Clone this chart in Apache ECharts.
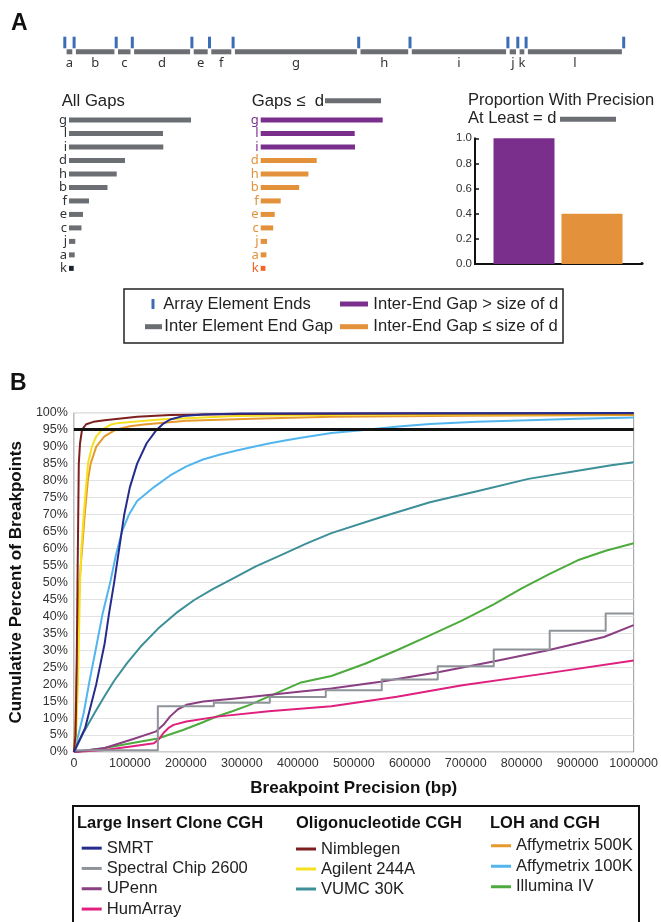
<!DOCTYPE html>
<html>
<head>
<meta charset="utf-8">
<script src="https://cdn.jsdelivr.net/npm/echarts@6/dist/echarts.min.js"></script>
<style>html,body{margin:0;padding:0;background:#fff}#c{width:661px;height:922px}</style>
</head>
<body>
<div id="c"></div>
<script>
// ---------------- Panel A data ----------------
const gapNames = ['a','b','c','d','e','f','g','h','i','j','k','l'];
const gapLengths = [5.7, 38.5, 12.5, 56, 14, 20, 122, 47.7, 94.3, 6.3, 4.7, 94];
const barOrder = ['g','l','i','d','h','b','f','e','c','j','a','k'];
const thresholdGap = 'd';
const proportionCats = ['Inter-End Gap > size of d', 'Inter-End Gap ≤ size of d'];
const proportionValues = [1.0, 0.4];

// ---------------- Panel B data (x = bp, y = cumulative %) ----------------
const xTicks = [0,100000,200000,300000,400000,500000,600000,700000,800000,900000,1000000];
const smrt = [[0,0],[20000,7],[40000,20],[55000,32],[63000,41],[72000,50],[90000,70],[100000,78],[113000,85],[130000,91],[148000,95],[160000,96.8],[172000,98],[195000,99],[230000,99.5],[300000,99.8],[1000000,99.9]];
const spectral = [[0,0.5],[150000,13.5],[250000,14.5],[350000,16.2],[450000,18.2],[550000,21.4],[650000,25.3],[750000,30.2],[850000,35.7],[950000,40.8],[1000000,40.8]];
const upenn = [[0,0],[55000,1.2],[102000,3.6],[146000,6],[160000,8],[172000,10.5],[186000,12.6],[201000,13.9],[231000,14.9],[289000,15.8],[348000,16.8],[406000,17.8],[460000,18.7],[548000,20.7],[653000,23.6],[747000,26.6],[847000,30],[947000,33.9],[1000000,37.4]];
const humarray = [[0,0],[55000,0.6],[102000,1.6],[143000,2.6],[152000,3.8],[160000,5.6],[170000,7.2],[178000,8],[201000,9],[260000,10.5],[348000,12],[460000,13.5],[577000,16.3],[694000,19.7],[841000,23.1],[1000000,27]];
const nimblegen = [[0,0],[3000,5],[5000,25],[6500,50],[8800,85],[11000,91],[14600,95],[22000,96.6],[35000,97.3],[55000,97.8],[113000,98.8],[172000,99.3],[300000,99.6],[600000,99.8],[1000000,99.8]];
const agilent = [[0,0],[4000,5],[7400,21],[11100,50],[13500,60],[17600,70],[25200,85],[32300,90],[40000,93],[50500,95],[66000,96.5],[81000,97],[154000,98],[289000,99],[500000,99.4],[1000000,99.6]];
const vumc = [[0,0],[18000,6],[37000,11.5],[55000,16.5],[72000,21],[95000,26.2],[119000,31],[150000,36.3],[183000,41],[215000,44.8],[248000,48],[283000,51],[325000,54.7],[370000,58],[415000,61.4],[460000,64.5],[548000,69.2],[636000,73.6],[724000,77],[812000,80.5],[900000,82.9],[960000,84.5],[1000000,85.4]];
const affy500 = [[0,0],[3000,10],[6000,30],[10000,50],[19400,70],[25000,80],[30000,85],[40000,90],[54600,93],[75000,95],[100000,96],[125000,96.5],[201000,97.6],[319000,98.2],[460000,98.8],[700000,99.1],[1000000,99.3]];
const affy100 = [[0,0],[8000,5],[17600,11.5],[28000,21],[40000,31],[51600,41],[65000,50],[75000,58],[86000,65],[98600,70],[113000,74],[142600,78],[172000,81.5],[201000,84.2],[230600,86.2],[260000,87.6],[289000,88.8],[319000,89.9],[348000,90.9],[377000,91.8],[406000,92.6],[460000,94],[518000,94.9],[580000,95.9],[636000,96.7],[720000,97.3],[812000,97.8],[900000,98.2],[1000000,98.6]];
const illumina = [[0,0],[50000,1],[100000,2.5],[150000,4],[195000,6.5],[225000,8.4],[254000,10.4],[283000,12],[313000,13.8],[360000,17.2],[406000,20.5],[460000,22.4],[520000,26],[577000,30],[635000,34.3],[694000,38.8],[750000,43.5],[800000,48.2],[850000,52.5],[900000,56.5],[950000,59.3],[1000000,61.5]];
const thresholdPct = 95;

// ---------------- styling ----------------
const FF = '"Liberation Sans", Arial, sans-serif';
const LF = '"Noto Sans", "Open Sans", sans-serif';
const GRAY = '#6b6e72', BLUE = '#3b6db5', PURPLE = '#7b2f8c', ORANGE = '#e3913a';

// derived track layout from the gap lengths
const GAP = 3.6;
const trackSegs = [], trackTicks = [];
let acc = 0;
gapLengths.forEach((len, i) => {
  trackTicks.push([acc + i * GAP + GAP / 2]);
  trackSegs.push([acc + (i + 1) * GAP, acc + (i + 1) * GAP + len]);
  acc += len;
});
trackTicks.push([acc + gapLengths.length * GAP + GAP / 2]);
const trackTotal = acc + (gapLengths.length + 1) * GAP;
const lenOf = n => gapLengths[gapNames.indexOf(n)];
const dLen = lenOf(thresholdGap);

const lineSeries = [
  ['Illumina IV', illumina, '#4cab3c'],
  ['HumArray', humarray, '#e0207f'],
  ['UPenn', upenn, '#8a3f82'],
  ['Spectral Chip 2600', spectral, '#8e9499'],
  ['VUMC 30K', vumc, '#3d8f98'],
  ['Affymetrix 100K', affy100, '#52b5ee'],
  ['Affymetrix 500K', affy500, '#e69a2e'],
  ['Agilent 244A', agilent, '#f5e020'],
  ['Nimblegen', nimblegen, '#7e1f1f'],
  ['SMRT', smrt, '#262c8c']
].map(([name, data, color]) => {
  const s = {
    name, type: 'line', xAxisIndex: 4, yAxisIndex: 4, data,
    showSymbol: false, symbol: 'none', color,
    itemStyle: {color}, lineStyle: {color, width: 2, join: 'round'},
    smooth: false, z: 3
  };
  if (name === 'Spectral Chip 2600') s.step = 'end';
  if (name === 'SMRT') s.markLine = {
    silent: true, symbol: 'none', label: {show: false}, animation: false,
    lineStyle: {color: '#111', width: 3, type: 'solid'}, data: [{yAxis: thresholdPct}]
  };
  return s;
});

const legendCommon = {
  orient: 'vertical', icon: 'rect', itemWidth: 20, itemHeight: 3, itemGap: 0,
  padding: 0, selectedMode: false,
  textStyle: {fontSize: 16.6, color: '#222', fontFamily: FF, lineHeight: 20.3}
};

const option = {
  animation: false,
  backgroundColor: '#fff',
  grid: [
    {left: 63, top: 30, width: trackTotal, height: 40},
    {left: 69, top: 113.3, width: 130, height: 161.8},
    {left: 260.7, top: 113.3, width: 130, height: 161.8},
    {left: 490, top: 138.3, width: 136, height: 125.7},
    {left: 69, top: 412.7, width: 568, height: 339.3, show: true, borderColor: '#9a9a9a', borderWidth: 1}
  ],
  xAxis: [
    {gridIndex: 0, type: 'value', min: 0, max: trackTotal, show: false},
    {gridIndex: 1, type: 'value', min: 0, max: 130, show: false},
    {gridIndex: 2, type: 'value', min: 0, max: 130, show: false},
    {gridIndex: 3, type: 'category', data: proportionCats, show: false},
    {gridIndex: 4, type: 'value', min: xTicks[0], max: xTicks[xTicks.length - 1], interval: xTicks[1] - xTicks[0],
      axisLine: {show: false}, axisTick: {show: false}, splitLine: {show: false},
      axisLabel: {formatter: v => String(v), fontSize: 12.5, color: '#333', margin: 5, fontFamily: FF},
      name: 'Breakpoint Precision (bp)', nameLocation: 'middle', nameGap: 27.5,
      nameTextStyle: {fontWeight: 'bold', fontSize: 17, color: '#111', fontFamily: FF}}
  ],
  yAxis: [
    {gridIndex: 0, type: 'value', min: 0, max: 1, show: false},
    {gridIndex: 1, type: 'category', data: barOrder, inverse: true,
      axisLine: {show: false}, axisTick: {show: false},
      axisLabel: {interval: 0, margin: 2, fontSize: 13, color: '#333', fontFamily: LF}},
    {gridIndex: 2, type: 'category', data: barOrder, inverse: true,
      axisLine: {show: false}, axisTick: {show: false},
      axisLabel: {interval: 0, margin: 2, fontSize: 13, fontFamily: LF,
        color: (v) => v === 'k' ? '#f26522' : (lenOf(v) > dLen ? PURPLE : ORANGE)}},
    {gridIndex: 3, type: 'value', min: 0, max: 1, interval: 0.2, offset: 15,
      axisLine: {show: true, lineStyle: {color: '#111', width: 2}},
      axisTick: {show: true, inside: true, length: 4, lineStyle: {color: '#111', width: 1.5}},
      splitLine: {show: false},
      axisLabel: {formatter: v => v.toFixed(1), fontSize: 11.5, color: '#333', margin: 3, fontFamily: FF}},
    {gridIndex: 4, type: 'value', min: 0, max: 100, interval: 5,
      axisLine: {show: false}, axisTick: {show: false},
      splitLine: {lineStyle: {color: '#e2e2e2', width: 1}},
      axisLabel: {formatter: '{value}%', fontSize: 12.5, color: '#333', margin: 6, fontFamily: FF},
      name: 'Cumulative Percent of Breakpoints', nameLocation: 'middle', nameGap: 44,
      nameTextStyle: {fontWeight: 'bold', fontSize: 17, color: '#111', fontFamily: FF}}
  ],
  legend: [
    Object.assign({}, legendCommon, {data: ['SMRT','Spectral Chip 2600','UPenn','HumArray'], left: 81.7, top: 838}),
    Object.assign({}, legendCommon, {data: ['Nimblegen','Agilent 244A','VUMC 30K'], left: 296, top: 839,
      textStyle: Object.assign({}, legendCommon.textStyle, {lineHeight: 20})}),
    Object.assign({}, legendCommon, {data: ['Affymetrix 500K','Affymetrix 100K','Illumina IV'], left: 491, top: 835.5,
      textStyle: Object.assign({}, legendCommon.textStyle, {lineHeight: 20.5})})
  ],
  series: [
    {type: 'custom', xAxisIndex: 0, yAxisIndex: 0, data: trackSegs, silent: true,
      renderItem: (params, api) => {
        const x0 = api.coord([api.value(0), 0])[0];
        const x1 = api.coord([api.value(1), 0])[0];
        const top = params.coordSys.y;
        return {type: 'group', children: [
          {type: 'rect', shape: {x: x0, y: top + 19.3, width: x1 - x0, height: 5}, style: {fill: GRAY}},
          {type: 'text', style: {text: gapNames[params.dataIndex], x: (x0 + x1) / 2, y: top + 33.5,
            align: 'center', verticalAlign: 'middle', fill: '#333', fontSize: 13, fontFamily: LF}}
        ]};
      }},
    {type: 'custom', xAxisIndex: 0, yAxisIndex: 0, data: trackTicks, silent: true,
      renderItem: (params, api) => {
        const x = api.coord([api.value(0), 0])[0];
        const top = params.coordSys.y;
        return {type: 'rect', shape: {x: x - 1.5, y: top + 6.7, width: 3, height: 11.6}, style: {fill: BLUE}};
      }},
    {type: 'bar', xAxisIndex: 1, yAxisIndex: 1, barWidth: 5, silent: true,
      data: barOrder.map(n => ({value: lenOf(n), itemStyle: {color: n === 'k' ? '#1d2030' : GRAY}}))},
    {type: 'bar', xAxisIndex: 2, yAxisIndex: 2, barWidth: 5, silent: true,
      data: barOrder.map(n => ({value: lenOf(n), itemStyle: {color: n === 'k' ? '#f26522' : (lenOf(n) > dLen ? PURPLE : ORANGE)}}))},
    {type: 'bar', xAxisIndex: 3, yAxisIndex: 3, barWidth: 61, silent: true,
      data: proportionValues.map((v, i) => ({value: v, itemStyle: {color: i === 0 ? PURPLE : ORANGE}}))}
  ].concat(lineSeries),
  graphic: [
    {type: 'text', left: 11, top: 12, style: {text: 'A', font: 'bold 23px ' + FF, fill: '#111'}},
    {type: 'text', left: 10, top: 372, style: {text: 'B', font: 'bold 23px ' + FF, fill: '#111'}},
    // panel A titles
    {type: 'text', x: 61.7, y: 101, style: {text: 'All Gaps', font: '16.7px ' + FF, fill: '#222', verticalAlign: 'middle'}},
    {type: 'text', x: 251.7, y: 101, style: {text: 'Gaps ≤  d', font: '16.7px ' + FF, fill: '#222', verticalAlign: 'middle'}},
    {type: 'rect', shape: {x: 325, y: 98.2, width: dLen, height: 5}, style: {fill: GRAY}},
    {type: 'text', x: 468, y: 100, style: {text: 'Proportion With Precision', font: '16.5px ' + FF, fill: '#222', verticalAlign: 'middle'}},
    {type: 'text', x: 468, y: 118.3, style: {text: 'At Least = d', font: '16.5px ' + FF, fill: '#222', verticalAlign: 'middle'}},
    {type: 'rect', shape: {x: 560, y: 116.8, width: dLen, height: 5}, style: {fill: GRAY}},
    {type: 'line', shape: {x1: 474, y1: 264, x2: 642, y2: 264}, style: {stroke: '#111', lineWidth: 2}},
    {type: 'circle', shape: {cx: 642, cy: 263.5, r: 1.6}, style: {fill: '#111'}},
    // panel A legend
    {type: 'rect', shape: {x: 124, y: 289, width: 439, height: 54}, style: {fill: 'none', stroke: '#222', lineWidth: 1.5}},
    {type: 'rect', shape: {x: 151.5, y: 299, width: 3, height: 10}, style: {fill: BLUE}},
    {type: 'text', x: 163.3, y: 304, style: {text: 'Array Element Ends', font: '16.6px ' + FF, fill: '#222', verticalAlign: 'middle'}},
    {type: 'rect', shape: {x: 145, y: 324.2, width: 17, height: 5}, style: {fill: GRAY}},
    {type: 'text', x: 164.3, y: 326.7, style: {text: 'Inter Element End Gap', font: '16.6px ' + FF, fill: '#222', verticalAlign: 'middle'}},
    {type: 'rect', shape: {x: 340, y: 301.5, width: 28, height: 5}, style: {fill: PURPLE}},
    {type: 'text', x: 373.3, y: 304, style: {text: 'Inter-End Gap > size of d', font: '16.6px ' + FF, fill: '#222', verticalAlign: 'middle'}},
    {type: 'rect', shape: {x: 340, y: 324.2, width: 28, height: 5}, style: {fill: ORANGE}},
    {type: 'text', x: 373.3, y: 326.7, style: {text: 'Inter-End Gap ≤ size of d', font: '16.6px ' + FF, fill: '#222', verticalAlign: 'middle'}},
    // panel B legend box + headings
    {type: 'rect', shape: {x: 73, y: 806, width: 566, height: 140}, style: {fill: 'none', stroke: '#111', lineWidth: 2}},
    {type: 'text', x: 77, y: 823, style: {text: 'Large Insert Clone CGH', font: 'bold 16.5px ' + FF, fill: '#111', verticalAlign: 'middle'}},
    {type: 'text', x: 296, y: 823, style: {text: 'Oligonucleotide CGH', font: 'bold 16.5px ' + FF, fill: '#111', verticalAlign: 'middle'}},
    {type: 'text', x: 490, y: 823, style: {text: 'LOH and CGH', font: 'bold 16.5px ' + FF, fill: '#111', verticalAlign: 'middle'}}
  ]
};

const chart = echarts.init(document.getElementById('c'), null, {renderer: 'canvas'});
chart.setOption(option);
</script>
</body>
</html>
